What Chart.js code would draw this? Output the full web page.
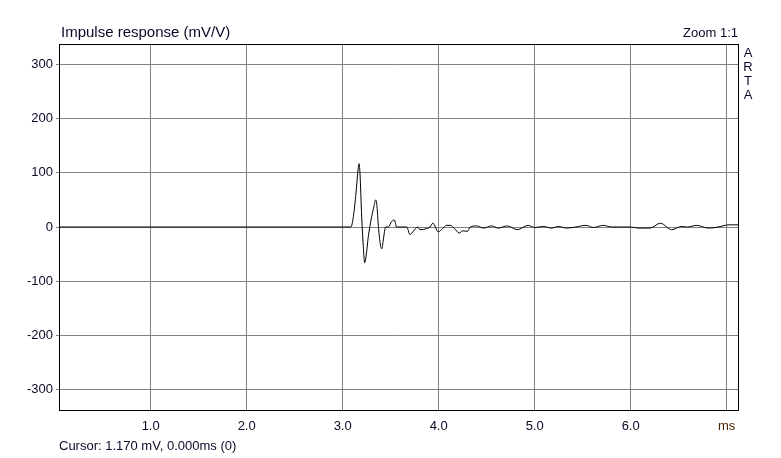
<!DOCTYPE html>
<html>
<head>
<meta charset="utf-8">
<script src="https://cdn.jsdelivr.net/npm/chart.js@4.4.1/dist/chart.umd.min.js"></script>
<style>
  html, body { margin: 0; padding: 0; background: #fff; }
  #wrap { width: 781px; height: 458px; position: relative; }
</style>
</head>
<body>
<div id="wrap"><canvas id="chart" width="781" height="458"></canvas></div>
<script>
// time axis (ms) and impulse response (mV/V)
const timeMs = [
    0.045, 1.0, 2.0, 3.0, 3.086, 3.111, 3.139, 3.160, 3.170, 3.180, 3.198, 3.215, 3.229, 3.243,
    3.267, 3.302, 3.326, 3.343, 3.354, 3.375, 3.396, 3.409, 3.423, 3.448, 3.475, 3.510,
    3.538, 3.562, 3.667, 3.701, 3.736, 3.781, 3.805, 3.875, 3.909, 3.940, 3.996, 4.040,
    4.080, 4.125, 4.160, 4.215, 4.250, 4.298, 4.330, 4.396, 4.465, 4.552, 4.620, 4.715,
    4.820, 4.930, 5.003, 5.090, 5.177, 5.246, 5.333, 5.430, 5.524, 5.560, 5.610, 5.715,
    5.800, 6.000, 6.080, 6.200, 6.310, 6.427, 6.530, 6.590, 6.687, 6.810, 6.880, 6.960,
    7.015, 7.118
];
const response = [
    0, 0, 0, 0, 0, 19, 63, 106, 117, 100, 19, -36, -66, -55,
    -18, 19, 38, 50, 44, -5, -36, -40, -24, 0, 0, 10,
    13, 0, 0, -14, -8, 0, -5, -3, 0, 7, -9, -3,
    3, 3, -2, -11, -7, -8, 0, 2, -2, 2, -2, 2,
    -5, 3, -1, 1, -2, 1, -2, 0, 3, 2, -1, 3,
    0, 0, -2, -2, 7, -5, 1, 0, 3, -2, -1, 2,
    4, 4
];
const yTicks = [-300, -200, -100, 0, 100, 200, 300];
const xTicks = [1, 2, 3, 4, 5, 6, 7];

const textColor = '#0a0a28';
const gridColor = '#808080';
const FONT = 'Arial, "Liberation Sans", sans-serif';

// frame, title, ARTA letters and cursor line
const decorPlugin = {
    id: 'decor',
    beforeDraw(chart) {
        const ctx = chart.ctx;
        ctx.save();
        ctx.fillStyle = '#fff';
        ctx.fillRect(0, 0, chart.width, chart.height);
        ctx.restore();
    },
    afterDraw(chart) {
        const ctx = chart.ctx;
        const a = chart.chartArea;
        ctx.save();
        ctx.strokeStyle = '#000';
        ctx.lineWidth = 1;
        ctx.strokeRect(Math.round(a.left) + 0.5, Math.round(a.top) + 0.5,
            Math.round(a.right - a.left), Math.round(a.bottom - a.top));

        ctx.fillStyle = textColor;
        ctx.textBaseline = 'middle';
        ctx.font = '15px ' + FONT;
        ctx.textAlign = 'left';
        ctx.fillText('Impulse response (mV/V)', 61, 33);

        ctx.font = '13px ' + FONT;
        ctx.textAlign = 'right';
        ctx.fillText('Zoom 1:1', a.right, 33);

        ctx.textAlign = 'center';
        ['A', 'R', 'T', 'A'].forEach((ch, i) => ctx.fillText(ch, 748, 53 + i * 14));

        ctx.textAlign = 'left';
        ctx.fillText('Cursor: 1.170 mV, 0.000ms (0)', 59, 446);
        ctx.restore();
    }
};

new Chart(document.getElementById('chart'), {
    type: 'line',
    data: {
        datasets: [{
            data: timeMs.map((t, i) => ({ x: t, y: response[i] })),
            borderColor: '#000',
            borderWidth: 1,
            pointRadius: 0,
            tension: 0.25,
            cubicInterpolationMode: 'monotone',
            fill: false
        }]
    },
    options: {
        responsive: false,
        animation: false,
        events: [],
        layout: { padding: { left: 0, right: 43, top: 44, bottom: 0 } },
        plugins: { legend: { display: false }, tooltip: { enabled: false } },
        scales: {
            x: {
                type: 'linear',
                min: 0.045,
                max: 7.118,
                afterBuildTicks: s => { s.ticks = xTicks.map(v => ({ value: v })); },
                afterFit: s => { s.height = 48; },
                border: { display: false },
                grid: { color: gridColor, lineWidth: 1, drawTicks: false },
                ticks: {
                    padding: 9,
                    maxRotation: 0,
                    autoSkip: false,
                    font: { size: 13, family: FONT },
                    color: ctx => ctx.tick && ctx.tick.value === 7 ? '#4d2600' : textColor,
                    callback: v => v === 7 ? 'ms' : v.toFixed(1)
                }
            },
            y: {
                type: 'linear',
                min: -338,
                max: 338,
                afterBuildTicks: s => { s.ticks = yTicks.map(v => ({ value: v })); },
                afterFit: s => { s.width = 59; },
                border: { display: false },
                grid: { color: gridColor, lineWidth: 1, drawTicks: true, tickLength: 3 },
                ticks: {
                    padding: 3,
                    autoSkip: false,
                    font: { size: 13, family: FONT },
                    color: textColor
                }
            }
        }
    },
    plugins: [decorPlugin]
});
</script>
</body>
</html>
